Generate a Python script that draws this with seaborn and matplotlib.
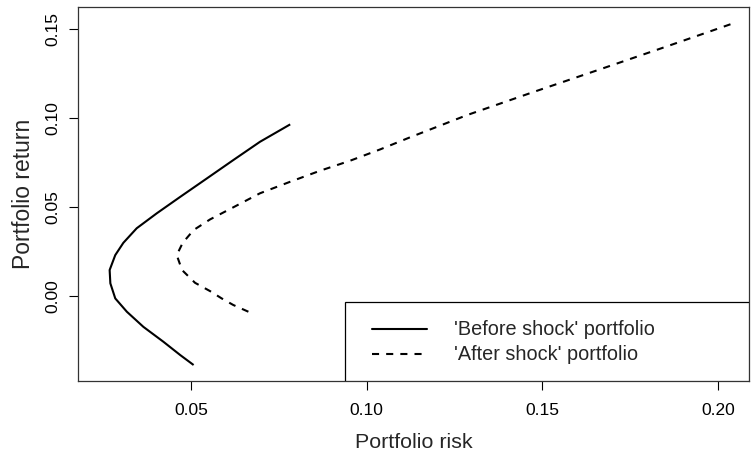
import matplotlib
matplotlib.use('agg')
import matplotlib.pyplot as plt
from matplotlib.patches import Rectangle
import seaborn as sns
import pandas as pd

# efficient frontier points
before_risk = [0.0507, 0.0469, 0.0421, 0.0364, 0.0317, 0.0284, 0.0270, 0.0268,
               0.0284, 0.0307, 0.0345, 0.0402, 0.0469, 0.0545, 0.0620, 0.0696, 0.0782]
before_return = [-0.0390, -0.0334, -0.0259, -0.0175, -0.0090, -0.0015, 0.0070, 0.0145,
                 0.0229, 0.0298, 0.0380, 0.0464, 0.0557, 0.0661, 0.0764, 0.0867, 0.0965]

after_risk = [0.0663, 0.0620, 0.0587, 0.0554, 0.0511, 0.0474, 0.0459, 0.0476,
              0.0507, 0.0554, 0.0620, 0.0696, 0.0782, 0.0867, 0.0952, 0.1038,
              0.1123, 0.1285, 0.1474, 0.1664, 0.1854, 0.2043]
after_return = [-0.0090, -0.0052, -0.0015, 0.0026, 0.0073, 0.0145, 0.0229, 0.0298,
                0.0370, 0.0430, 0.0498, 0.0577, 0.0642, 0.0704, 0.0760, 0.0824,
                0.0892, 0.1017, 0.1147, 0.1275, 0.1404, 0.1534]

labels = ["'Before shock' portfolio", "'After shock' portfolio"]

df = pd.concat([
    pd.DataFrame({'risk': before_risk, 'ret': before_return, 'series': labels[0]}),
    pd.DataFrame({'risk': after_risk, 'ret': after_return, 'series': labels[1]}),
], ignore_index=True)

sns.set_style('white')
plt.rcParams['font.family'] = ['Liberation Sans', 'DejaVu Sans']

fig = plt.figure(figsize=(7.51, 4.57), dpi=100)
ax = fig.add_axes([0.1039, 0.1663, 0.8934, 0.8184])

sns.lineplot(data=df, x='risk', y='ret', hue='series', style='series',
             palette=['black', 'black'], dashes=[(1, 0), (3.4, 3.4)],
             sort=False, estimator=None, linewidth=1.5, ax=ax, legend=False)

ax.set_xlim(0.0178, 0.2088)
ax.set_ylim(-0.048, 0.1626)
ax.set_xticks([0.05, 0.10, 0.15, 0.20])
ax.set_yticks([0.00, 0.05, 0.10, 0.15])
ax.set_xticklabels(['0.05', '0.10', '0.15', '0.20'])
ax.set_yticklabels(['0.00', '0.05', '0.10', '0.15'], rotation=90, va='center')
ax.tick_params(axis='x', length=6.5, width=0.8, pad=9, labelsize=12.5, colors='black',
               bottom=True)
ax.tick_params(axis='y', length=6.5, width=0.8, pad=6, labelsize=12.5, colors='black',
               left=True)
for s in ax.spines.values():
    s.set_color('#333333')
    s.set_linewidth(0.9)

ax.set_xlabel('Portfolio risk', fontsize=15.4, labelpad=11)
ax.set_ylabel('Portfolio return', fontsize=16.5, labelpad=8)

# legend box, R style (bottom right, square frame)
ax.add_patch(Rectangle((0.398, 0), 0.602, 0.211, transform=ax.transAxes,
                       facecolor='white', edgecolor='black', lw=0.9, zorder=3))
handles = [plt.Line2D([], [], color='black', lw=1.5),
           plt.Line2D([], [], color='black', lw=1.5, dashes=(3.4, 3.4))]
leg = ax.legend(handles, labels, loc='center left', bbox_to_anchor=(0.438, 0.103),
                borderaxespad=0, borderpad=0, frameon=False, fontsize=14.3,
                handlelength=2.78, handletextpad=1.34, labelspacing=0.3)
leg.set_zorder(4)

plt.savefig('out.png', dpi=100)
